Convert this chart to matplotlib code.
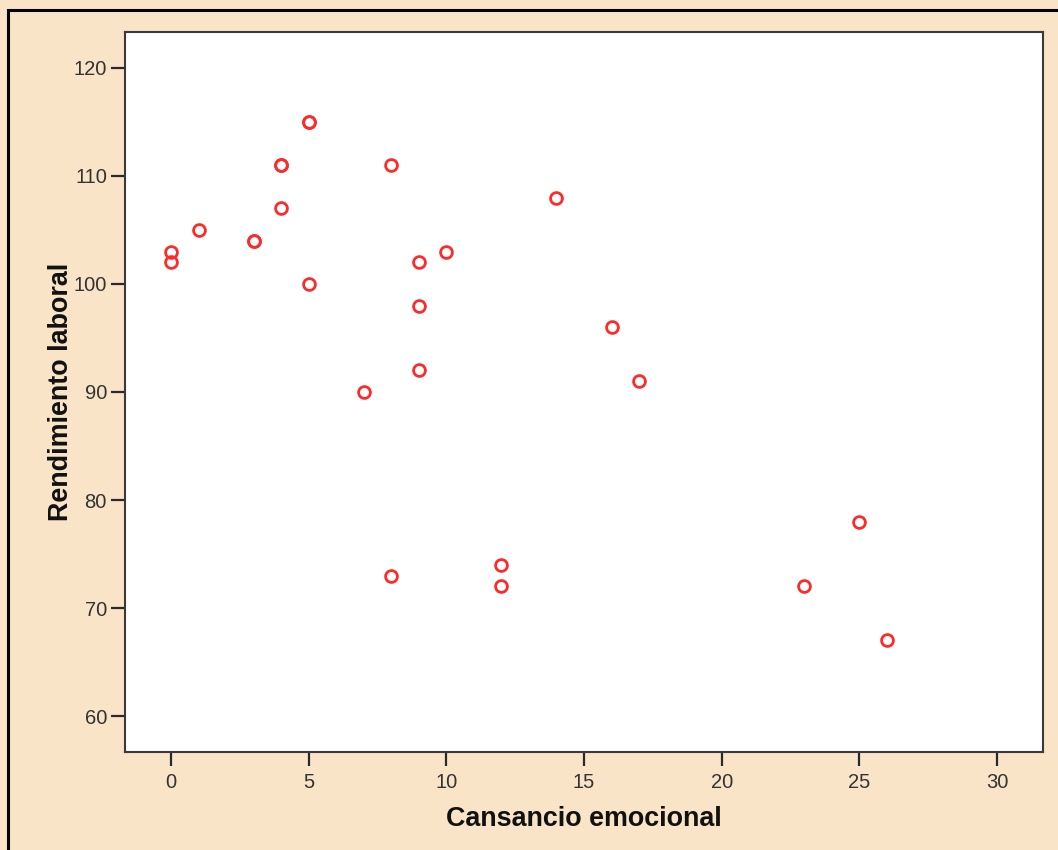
import matplotlib
matplotlib.use("Agg")
import matplotlib.pyplot as plt
from matplotlib.patches import Rectangle

# Cansancio emocional vs. rendimiento laboral
cansancio = [0, 0, 1, 3, 3, 4, 4, 4, 5, 5, 5, 7, 8, 8, 9, 9, 9, 10, 12, 12, 14, 16, 17, 23, 25, 26]
rendimiento = [103, 102, 105, 104, 104, 111, 111, 107, 115, 115, 100, 90, 111, 73, 102, 98, 92, 103, 74, 72, 108, 96, 91, 72, 78, 67]

x_ticks = [0, 5, 10, 15, 20, 25, 30]
y_ticks = [60, 70, 80, 90, 100, 110, 120]

bg = "#F9E4C8"
plt.rcParams["font.family"] = ["Liberation Sans", "DejaVu Sans"]

fig = plt.figure(figsize=(10.58, 8.5), dpi=100, facecolor=bg)
W, H = 1058, 850

# outer frame
fig.patches.append(Rectangle((8 / W, -0.1), 1.2, (H - 10) / H + 0.1,
                             transform=fig.transFigure, fill=False,
                             edgecolor="black", linewidth=2.2, zorder=0))

ax = fig.add_axes([125 / W, 98 / H, 918 / W, 720 / H])
ax.set_facecolor("white")
ax.plot(cansancio, rendimiento, linestyle="none", marker="o", markersize=8.5,
        markerfacecolor="none", markeredgecolor="#FF2A2A", markeredgewidth=2.0)

ax.set_xlim(-1.67, 31.67)
ax.set_ylim(56.67, 123.33)
ax.set_xticks(x_ticks)
ax.set_yticks(y_ticks)

for s in ax.spines.values():
    s.set_color("#3a3a3a")
    s.set_linewidth(1.5)

ax.tick_params(direction="out", length=10, width=1.6, color="#2a2a2a",
               labelsize=14.5, labelcolor="#333333")
ax.tick_params(axis="x", pad=5)
ax.tick_params(axis="y", pad=3)

ax.set_xlabel("Cansancio emocional", fontsize=19.4, fontweight="bold",
              color="#111111", labelpad=10)
ax.set_ylabel("Rendimiento laboral", fontsize=19.4, fontweight="bold",
              color="#111111", labelpad=0)

fig.savefig("out.png", dpi=100, facecolor=bg)
